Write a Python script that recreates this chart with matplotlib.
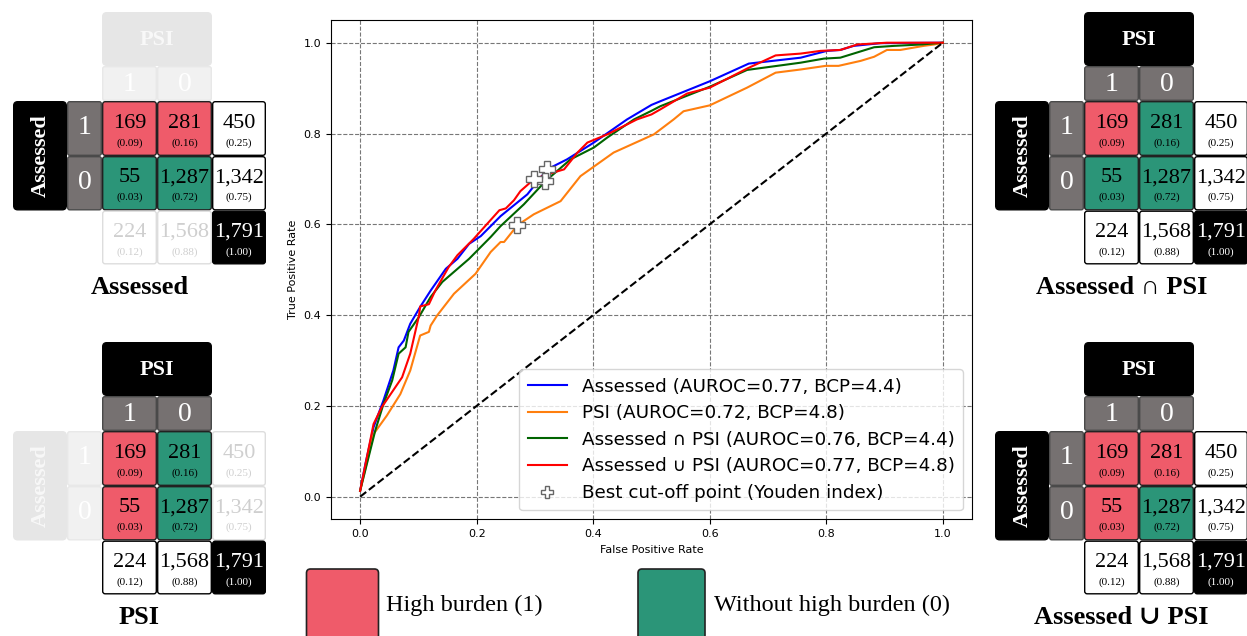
import matplotlib
matplotlib.use("Agg")
import matplotlib.pyplot as plt
from matplotlib.patches import FancyBboxPatch
from matplotlib.lines import Line2D

W, H = 1247, 636

# ---------------- ROC data ----------------
assessed_fpr = [0.0, 0.009, 0.023, 0.040, 0.057, 0.066, 0.075, 0.086, 0.103, 0.121, 0.147,
                0.167, 0.187, 0.207, 0.241, 0.287, 0.321, 0.355, 0.401, 0.458, 0.500, 0.515,
                0.600, 0.667, 0.756, 0.801, 0.824, 0.847, 0.893, 1.0]
assessed_tpr = [0.013, 0.072, 0.153, 0.212, 0.278, 0.329, 0.344, 0.381, 0.418, 0.454, 0.502,
                0.524, 0.557, 0.574, 0.618, 0.666, 0.721, 0.743, 0.780, 0.831, 0.863, 0.871,
                0.915, 0.954, 0.967, 0.982, 0.984, 0.993, 0.999, 1.0]

psi_fpr = [0.0, 0.023, 0.046, 0.069, 0.086, 0.103, 0.118, 0.121, 0.132, 0.161, 0.198, 0.224,
           0.241, 0.247, 0.270, 0.298, 0.344, 0.378, 0.435, 0.504, 0.538, 0.555, 0.600, 0.664,
           0.713, 0.756, 0.799, 0.821, 0.859, 0.882, 0.904, 0.927, 0.967, 0.985, 1.0]
psi_tpr = [0.013, 0.138, 0.179, 0.226, 0.278, 0.355, 0.363, 0.377, 0.399, 0.447, 0.491, 0.539,
           0.561, 0.561, 0.598, 0.622, 0.651, 0.706, 0.758, 0.798, 0.831, 0.849, 0.862, 0.901,
           0.934, 0.941, 0.949, 0.949, 0.960, 0.969, 0.984, 0.984, 0.993, 0.996, 1.0]

inter_fpr = [0.0, 0.026, 0.040, 0.055, 0.066, 0.078, 0.083, 0.101, 0.121, 0.141, 0.187, 0.224,
             0.241, 0.281, 0.318, 0.361, 0.401, 0.424, 0.470, 0.500, 0.515, 0.600, 0.664,
             0.756, 0.796, 0.824, 0.882, 0.916, 0.962, 1.0]
inter_tpr = [0.013, 0.146, 0.204, 0.256, 0.315, 0.329, 0.363, 0.396, 0.440, 0.473, 0.524, 0.572,
             0.596, 0.644, 0.695, 0.743, 0.769, 0.791, 0.831, 0.850, 0.860, 0.903, 0.940,
             0.956, 0.965, 0.967, 0.990, 0.993, 0.996, 1.0]

union_fpr = [0.0, 0.023, 0.037, 0.072, 0.086, 0.101, 0.103, 0.118, 0.129, 0.152, 0.167, 0.195,
             0.218, 0.239, 0.250, 0.264, 0.275, 0.298, 0.321, 0.350, 0.373, 0.390, 0.424,
             0.475, 0.500, 0.515, 0.561, 0.600, 0.664, 0.713, 0.756, 0.790, 0.824, 0.853,
             0.904, 1.0]
union_tpr = [0.013, 0.160, 0.197, 0.263, 0.315, 0.399, 0.419, 0.424, 0.454, 0.506, 0.532, 0.568,
             0.601, 0.631, 0.635, 0.653, 0.673, 0.699, 0.710, 0.721, 0.758, 0.780, 0.798,
             0.831, 0.842, 0.853, 0.888, 0.901, 0.943, 0.972, 0.976, 0.982, 0.984, 0.996,
             1.0, 1.0]

series_labels = ["Assessed (AUROC=0.77, BCP=4.4)", "PSI (AUROC=0.72, BCP=4.8)",
                 "Assessed ∩ PSI (AUROC=0.76, BCP=4.4)", "Assessed ∪ PSI (AUROC=0.77, BCP=4.8)"]
series_colors = ["blue", "#ff7f0e", "darkgreen", "red"]
youden_fpr = [0.321, 0.270, 0.318, 0.298]
youden_tpr = [0.721, 0.598, 0.695, 0.699]
youden_label = "Best cut-off point (Youden index)"
ticks = [0.0, 0.2, 0.4, 0.6, 0.8, 1.0]

# ---------------- confusion matrix data ----------------
bin_labels = ["1", "0"]
cm_counts = [[169, 281], [55, 1287]]
cm_frac = [[0.09, 0.16], [0.03, 0.72]]
row_totals = [450, 1342]
row_frac = [0.25, 0.75]
col_totals = [224, 1568]
col_frac = [0.12, 0.88]
grand_total = 1791
grand_frac = 1.00
row_name = "Assessed"
col_name = "PSI"
panel_titles = ["Assessed", "Assessed ∩ PSI", "PSI", "Assessed ∪ PSI"]
panel_masks = [[[1, 1], [0, 0]], [[1, 0], [0, 0]], [[1, 0], [1, 0]], [[1, 1], [1, 0]]]
panel_fade = ["top", None, "left", None]
legend_texts = ["High burden (1)", "Without high burden (0)"]

RED = "#EF5B6A"
GREEN = "#2B9578"
GRAY = "#767171"
SERIF = ["Liberation Serif", "DejaVu Serif"]

fig = plt.figure(figsize=(W / 100, H / 100), dpi=100)

# ---------- overlay for the tables ----------
ov = fig.add_axes([0, 0, 1, 1])
ov.set_xlim(0, W)
ov.set_ylim(H, 0)
ov.axis("off")


def rbox(x0, y0, x1, y1, fc, ec, lw=1.0, r=3):
    ov.add_patch(FancyBboxPatch((x0, y0), x1 - x0, y1 - y0,
                                boxstyle=f"round,pad=0,rounding_size={r}",
                                fc=fc, ec=ec, lw=lw))


CX = [0, 54, 89, 144, 199, 253]
RY = [0, 54, 89, 144, 198.5, 252.5]
G = 0.7


def draw_panel(ox, oy, title, mask, fade):
    def rect(i0, i1, j0, j1):
        return ox + CX[i0] + G, oy + RY[j0] + G, ox + CX[i1] - G, oy + RY[j1] - G

    ft = fade == "top"
    fl = fade == "left"
    # column header
    x0, y0, x1, y1 = rect(2, 4, 0, 1)
    rbox(x0, y0, x1, y1, "#E6E6E6" if ft else "black", "#E6E6E6" if ft else "black", r=4)
    ov.text((x0 + x1) / 2, (y0 + y1) / 2 + 1, col_name, color="#F8F8F8" if ft else "white",
            family=SERIF, weight="bold", fontsize=16, ha="center", va="center")
    for c in range(2):
        x0, y0, x1, y1 = rect(2 + c, 3 + c, 1, 2)
        rbox(x0, y0, x1, y1, "#F1F1F1" if ft else GRAY, "#E8E8E8" if ft else "#4a4a4a", r=2)
        ov.text((x0 + x1) / 2, (y0 + y1) / 2 + 1, bin_labels[c], color="white",
                family=SERIF, fontsize=20, ha="center", va="center")
    # row header
    x0, y0, x1, y1 = rect(0, 1, 2, 4)
    rbox(x0, y0, x1, y1, "#E6E6E6" if fl else "black", "#E6E6E6" if fl else "black", r=4)
    ov.text((x0 + x1) / 2 + 1, (y0 + y1) / 2, row_name, color="#F8F8F8" if fl else "white",
            family=SERIF, weight="bold", fontsize=16, ha="center", va="center", rotation=90)
    for r in range(2):
        x0, y0, x1, y1 = rect(1, 2, 2 + r, 3 + r)
        rbox(x0, y0, x1, y1, "#F1F1F1" if fl else GRAY, "#E8E8E8" if fl else "#4a4a4a", r=2)
        ov.text((x0 + x1) / 2, (y0 + y1) / 2 - 1, bin_labels[r], color="white",
                family=SERIF, fontsize=20, ha="center", va="center")

    def value_cell(x0, y0, x1, y1, fc, ec, n, f, tc, fsize=16):
        rbox(x0, y0, x1, y1, fc, ec, r=2.5)
        h = y1 - y0
        ov.text((x0 + x1) / 2, y0 + 0.40 * h, f"{n:,}", color=tc, family=SERIF,
                fontsize=fsize, ha="center", va="center")
        ov.text((x0 + x1) / 2, y0 + 0.77 * h, f"({f:.2f})", color=tc, family=SERIF,
                fontsize=8, ha="center", va="center")

    for r in range(2):
        for c in range(2):
            x0, y0, x1, y1 = rect(2 + c, 3 + c, 2 + r, 3 + r)
            value_cell(x0, y0, x1, y1, RED if mask[r][c] else GREEN, "#222222",
                       cm_counts[r][c], cm_frac[r][c], "black")
    for r in range(2):
        x0, y0, x1, y1 = rect(4, 5, 2 + r, 3 + r)
        value_cell(x0, y0, x1, y1, "white", "#DDDDDD" if fl else "black",
                   row_totals[r], row_frac[r], "#CFCFCF" if fl else "black")
    for c in range(2):
        x0, y0, x1, y1 = rect(2 + c, 3 + c, 4, 5)
        value_cell(x0, y0, x1, y1, "white", "#DDDDDD" if ft else "black",
                   col_totals[c], col_frac[c], "#CFCFCF" if ft else "black")
    x0, y0, x1, y1 = rect(4, 5, 4, 5)
    value_cell(x0, y0, x1, y1, "black", "black", grand_total, grand_frac, "white")

    ov.text(ox + 126.5, oy + 276, title, family=SERIF, weight="bold", fontsize=19,
            ha="center", va="center")


origins = [(13, 12), (995, 12), (13, 342), (995, 342)]
for k, (ox, oy) in enumerate(origins):
    draw_panel(ox, oy, panel_titles[k], panel_masks[k], panel_fade[k])

# bottom colour legend
rbox(306.5, 569, 378.5, 650, RED, "#222222", lw=1.2, r=4)
rbox(638, 569, 705, 650, GREEN, "#222222", lw=1.2, r=4)
ov.text(386, 605, legend_texts[0], family=SERIF, fontsize=17.5, ha="left", va="center")
ov.text(714, 605, legend_texts[1], family=SERIF, fontsize=17.5, ha="left", va="center")

# ---------------- ROC axes ----------------
ax = fig.add_axes([331 / W, 1 - 519.4 / H, (972 - 331) / W, (519.4 - 20) / H])
fprs = [assessed_fpr, psi_fpr, inter_fpr, union_fpr]
tprs = [assessed_tpr, psi_tpr, inter_tpr, union_tpr]
handles = []
for fpr, tpr, col, lab in zip(fprs, tprs, series_colors, series_labels):
    ln, = ax.plot(fpr, tpr, color=col, lw=1.5, label=lab)
    handles.append(ln)
ax.plot([0, 1], [0, 1], color="black", ls="--", lw=1.5)
for x, y in zip(youden_fpr, youden_tpr):
    ax.plot([x], [y], ls="none", marker="P", ms=12, mfc="white", mec="#666666", mew=1.0, zorder=5)
handles.append(Line2D([], [], ls="none", marker="P", ms=9, mfc="white", mec="#666666",
                      mew=1.0, label=youden_label))
ax.set_xlim(-0.05, 1.05)
ax.set_ylim(-0.05, 1.05)
ax.set_xticks(ticks)
ax.set_yticks(ticks)
ax.tick_params(labelsize=8)
ax.grid(True, ls="--", color="#777777", lw=0.8)
ax.set_xlabel("False Positive Rate", fontsize=8)
ax.set_ylabel("True Positive Rate", fontsize=8)
ax.legend(handles=handles, loc="lower right", fontsize=13.2, labelspacing=0.47,
          handlelength=2.15, handletextpad=0.8, borderpad=0.45)

fig.savefig("out.png", dpi=100)
